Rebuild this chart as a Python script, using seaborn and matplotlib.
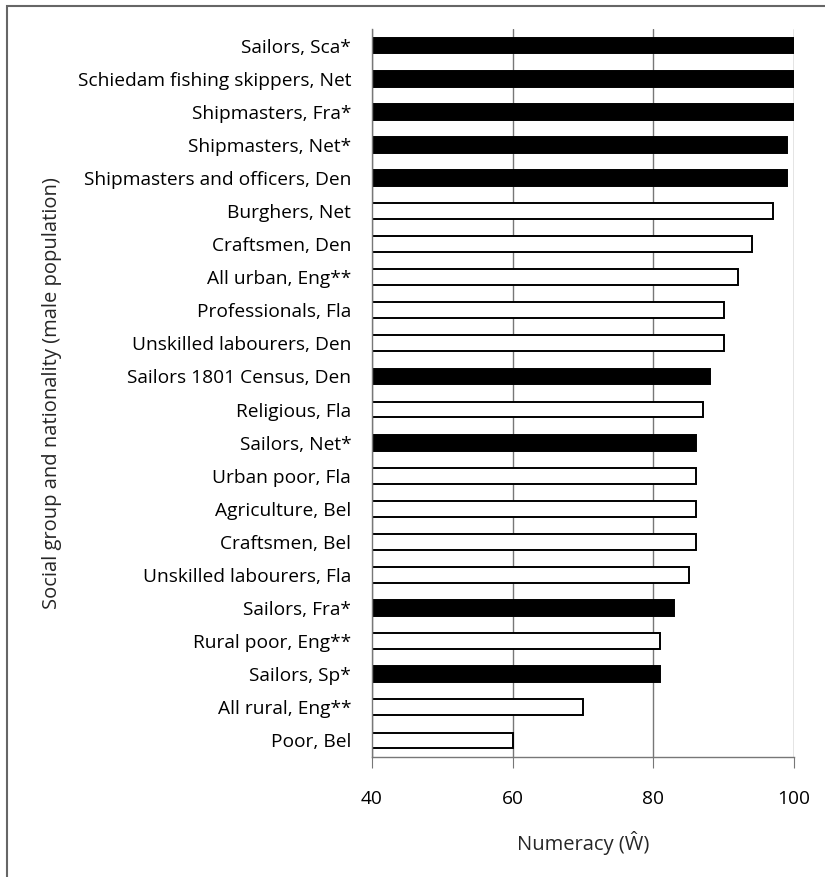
import pandas as pd
import seaborn as sns
import matplotlib.pyplot as plt
from matplotlib.patches import Rectangle

groups = ['Sailors, Sca*', 'Schiedam fishing skippers, Net', 'Shipmasters, Fra*',
          'Shipmasters, Net*', 'Shipmasters and officers, Den', 'Burghers, Net',
          'Craftsmen, Den', 'All urban, Eng**', 'Professionals, Fla',
          'Unskilled labourers, Den', 'Sailors 1801 Census, Den', 'Religious, Fla',
          'Sailors, Net*', 'Urban poor, Fla', 'Agriculture, Bel', 'Craftsmen, Bel',
          'Unskilled labourers, Fla', 'Sailors, Fra*', 'Rural poor, Eng**',
          'Sailors, Sp*', 'All rural, Eng**', 'Poor, Bel']
numeracy = [100, 100, 100, 99, 99, 97, 94, 92, 90, 90, 88, 87,
            86, 86, 86, 86, 85, 83, 81, 81, 70, 60]
kind = ['maritime', 'maritime', 'maritime', 'maritime', 'maritime', 'other',
        'other', 'other', 'other', 'other', 'maritime', 'other',
        'maritime', 'other', 'other', 'other', 'other', 'maritime', 'other',
        'maritime', 'other', 'other']

df = pd.DataFrame({'group': groups, 'W': numeracy, 'kind': kind})

sns.set_style('white')
plt.rcParams['font.family'] = ['Open Sans', 'DejaVu Sans']
plt.rcParams['text.color'] = 'black'

fig = plt.figure(figsize=(8.25, 8.77), dpi=100)
ax = fig.add_axes([372 / 825, 1 - 757 / 877, (794 - 372) / 825, (757 - 29) / 877])

sns.barplot(data=df, x='W', y='group', hue='kind', dodge=False, orient='h',
            palette={'maritime': 'black', 'other': 'white'},
            edgecolor='black', linewidth=1.4, width=0.48, legend=False, ax=ax)

ax.set_xlim(40, 100)
ax.set_ylim(len(groups) - 0.5, -0.5)
ax.set_xticks([40, 60, 80, 100])
ax.xaxis.grid(True, color='#777777', linewidth=1)
ax.set_axisbelow(True)

# category ticks sit between bars, like the original spreadsheet chart
ax.set_yticks([i - 0.5 for i in range(len(groups) + 1)], minor=True)
ax.tick_params(axis='y', which='major', length=0, pad=15, labelsize=13.8,
               labelcolor='black')
ax.tick_params(axis='y', which='minor', length=5, color='#777777', direction='out')
ax.tick_params(axis='x', length=8, color='#777777', direction='out', pad=16,
               labelsize=13.8, labelcolor='black', bottom=True)

for side in ['top', 'right']:
    ax.spines[side].set_visible(False)
for side in ['left', 'bottom']:
    ax.spines[side].set_color('#777777')
    ax.spines[side].set_linewidth(1)

ax.set_xlabel('Numeracy (Ŵ)', fontsize=14.5, labelpad=16)
ax.set_ylabel('Social group and nationality (male population)', fontsize=14.5)
ax.yaxis.set_label_coords(-0.735, 0.5)

fig.patches.append(Rectangle((7 / 825, -0.1), 1.5, 1.1 - 6 / 877, transform=fig.transFigure,
                             fill=False, edgecolor='#666666', linewidth=1.5))

fig.savefig('out.png', dpi=100)
